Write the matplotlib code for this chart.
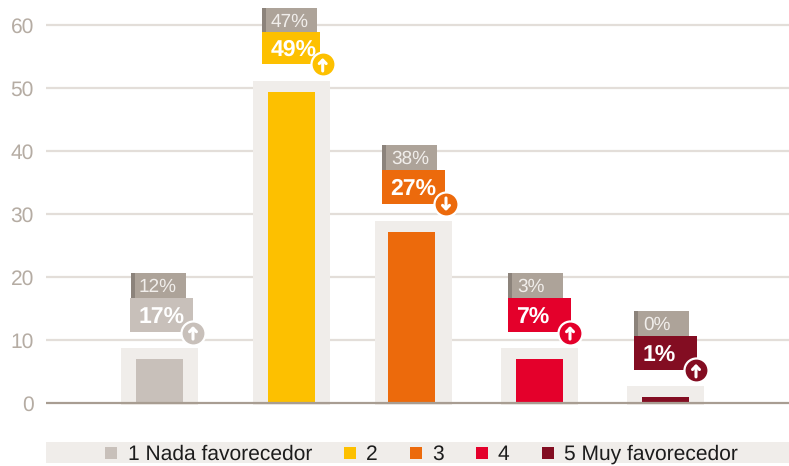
import matplotlib
matplotlib.use('Agg')
import matplotlib.pyplot as plt
from matplotlib.patches import Rectangle

# Data
categories = ['1 Nada favorecedor', '2', '3', '4', '5 Muy favorecedor']
values = [7, 49.4, 27.1, 7, 1]
prev_labels = ['12%', '47%', '38%', '3%', '0%']
curr_labels = ['17%', '49%', '27%', '7%', '1%']
trend = ['up', 'up', 'down', 'up', 'up']
y_ticks = [0, 10, 20, 30, 40, 50, 60]

# Layout, the x axis is in pixels of the picture
centers = [159.5, 291.5, 411.5, 539.5, 665.5]
pale_centers = [159.5, 291.5, 413.5, 539.5, 665.5]
box_left = [130, 262, 382, 508, 634]
box_widths = [63, 58, 63, 63, 63]
badge_x = [193, 322.7, 446, 570, 696]
box_gap = [27, 28, 28.5, 27, 27]
legend_squares = [105, 344, 410, 476, 542]
legend_text = [128, 366, 432, 498, 564]
colors = ['#c8c0ba', '#fdc000', '#ec6a0c', '#e4002b', '#830d22']

GREY_BOX = '#ada399'
GREY_STRIP = '#8c837b'
PALE = '#f0edea'
GRID = '#e3ded9'
BASE = '#a89d92'
TICK = '#b5aca3'
PX = 1 / 6.3  # one pixel in y units

plt.rcParams['font.family'] = ['Liberation Sans', 'DejaVu Sans']
plt.rcParams['text.hinting'] = 'none'
plt.rcParams['text.hinting_factor'] = 1

fig = plt.figure(figsize=(7.89, 4.66), dpi=100)
ax = fig.add_axes([0, 0, 1, 1])
ax.set_xlim(0, 789)
ax.set_ylim(-63 * PX, 403 * PX)
ax.axis('off')

# Grid and y labels
for t in y_ticks[1:]:
    ax.plot([46, 789], [t, t], color=GRID, lw=1.6, zorder=1, solid_capstyle='butt')
for t in y_ticks:
    ax.text(34, t, str(t), ha='right', va='center_baseline', fontsize=15, color=TICK)

# Pale bars behind, then the real ones
ax.bar(pale_centers, [v + 1.75 + 2 * PX for v in values], width=77, bottom=-2 * PX, color=PALE, zorder=2)
ax.bar(centers, values, width=47, color=colors, zorder=3)
ax.plot([46, 789], [0, 0], color=BASE, lw=1.6, zorder=4, solid_capstyle='butt')

# Label boxes above the bars
for i, v in enumerate(values):
    left = box_left[i]
    bottom = v + box_gap[i] * PX
    h_col = (32 if i == 1 else 34) * PX
    h_grey = (24 if i == 1 else 25) * PX
    grey_left = left + 1 if i == 0 else left
    ax.add_patch(Rectangle((grey_left, bottom + h_col), 55, h_grey, color=GREY_BOX, lw=0, zorder=5))
    ax.add_patch(Rectangle((grey_left, bottom + h_col), 4, h_grey, color=GREY_STRIP, lw=0, zorder=6))
    ax.add_patch(Rectangle((left, bottom), box_widths[i], h_col, color=colors[i], lw=0, zorder=6))
    ax.text(left + 9, bottom + h_col + h_grey / 2, prev_labels[i], ha='left', va='center_baseline',
            fontsize=13.5, color='#f1eeeb', zorder=7)
    ax.text(left + 8.5, bottom + h_col / 2, curr_labels[i], ha='left', va='center_baseline',
            fontsize=16.5, fontweight='bold', color='white', zorder=7)

    # Badge with arrow
    by = bottom - 0.7 * PX
    ax.scatter([badge_x[i]], [by], s=300, color=colors[i], edgecolor='white', linewidth=1.6, zorder=8)
    d = 6.5 * PX if trend[i] == 'up' else -6.5 * PX
    ax.annotate('', xy=(badge_x[i], by + d), xytext=(badge_x[i], by - d), zorder=9,
                arrowprops=dict(arrowstyle='->,head_width=0.25,head_length=0.25', color='white',
                                lw=2.2, shrinkA=0, shrinkB=0))

# Legend band
ax.add_patch(Rectangle((46, -60 * PX), 743, 21 * PX, color=PALE, lw=0, zorder=2))
for i, c in enumerate(categories):
    ax.add_patch(Rectangle((legend_squares[i], -56 * PX), 12, 12 * PX, color=colors[i], lw=0, zorder=3))
    ax.text(legend_text[i], -49.5 * PX, c, ha='left', va='center_baseline', fontsize=15, color='#1c1c1c', zorder=3)

fig.savefig('out.png', dpi=100)
